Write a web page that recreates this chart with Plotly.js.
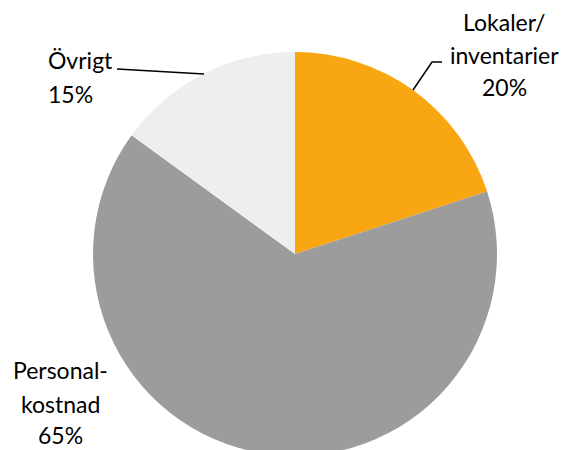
<!DOCTYPE html>
<html><head><meta charset="utf-8">
<script src="https://cdn.plot.ly/plotly-3.0.1.min.js"></script>
<style>html,body{margin:0;padding:0;overflow:hidden;background:#fff}</style>
</head><body><div id="chart"></div>
<script>
const categories = ["Lokaler/inventarier", "Personalkostnad", "Övrigt"];
const labelLines = [["Lokaler/", "inventarier"], ["Personal-", "kostnad"], ["Övrigt"]];
const values = [20, 65, 15];
const colors = ["#F9A613", "#9C9C9C", "#EEEEEE"];

const W = 565, H = 520;
const px = x => x / W;
const py = y => 1 - y / H;
const cx = 295, cy = 254, r = 202;

const labelPos = [
  {x: 504, ys: [22, 55, 87], xanchor: "center"},
  {x: 60, ys: [370, 404, 435], xanchor: "center"},
  {x: 46, ys: [60, 94], xanchor: "left"}
];
const total = values.reduce((a, b) => a + b, 0);
const annotations = [];
labelLines.forEach((ls, i) => {
  const texts = ls.concat([Math.round(values[i] / total * 100) + "%"]);
  texts.forEach((t, j) => annotations.push({
    xref: "paper", yref: "paper",
    x: px(labelPos[i].x), y: py(labelPos[i].ys[j]),
    xanchor: labelPos[i].xanchor, yanchor: "middle",
    text: t, showarrow: false,
    font: {family: "Lato, 'Open Sans', sans-serif", size: 23, color: "#000"}
  }));
});

const lines = [
  [[442, 62], [432, 62], [413, 90]],
  [[117, 69], [204, 74]]
];
const shapes = lines.map(pts => ({
  type: "path", xref: "paper", yref: "paper",
  path: pts.map((p, i) => (i ? "L" : "M") + px(p[0]) + "," + py(p[1])).join(" "),
  line: {color: "#000", width: 1.5}
}));

Plotly.newPlot("chart", [{
  type: "pie",
  labels: categories,
  values: values,
  sort: false,
  direction: "clockwise",
  rotation: 0,
  textinfo: "none",
  hoverinfo: "none",
  marker: {colors: colors, line: {width: 0}},
  domain: {x: [px(cx - r), px(cx + r)], y: [py(cy + r), py(cy - r)]}
}], {
  width: W, height: H,
  margin: {l: 0, r: 0, t: 0, b: 0},
  showlegend: false,
  paper_bgcolor: "#fff",
  annotations: annotations,
  shapes: shapes
}, {displayModeBar: false, staticPlot: true});
</script></body></html>
